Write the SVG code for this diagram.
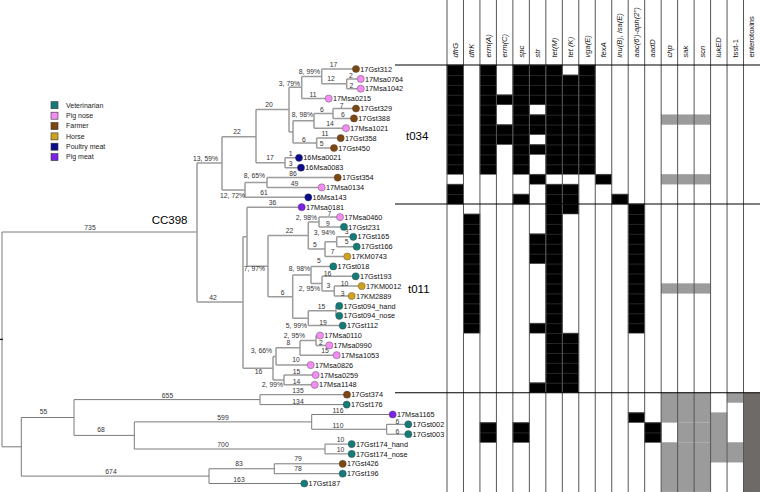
<svg xmlns="http://www.w3.org/2000/svg" width="760" height="492" viewBox="0 0 760 492">
<defs>
<pattern id="blk" patternUnits="userSpaceOnUse" x="0" y="65" width="760" height="9.93">
<rect width="760" height="9.93" fill="#000"/>
<rect width="760" height="0.6" fill="#3c3c3c"/>
</pattern>
</defs>
<style>
text{font-family:"Liberation Sans",Arial,sans-serif}
.b1{stroke:#9c9c9c;stroke-width:1.5;fill:none}
.b2{stroke:#7a7a7a;stroke-width:1;fill:none}
.bl{font-size:6.8px;fill:#333}
.e{text-anchor:end}
.m{text-anchor:middle}
.nm{font-size:7.3px;fill:#111}
.hd{font-size:7.6px;fill:#111;font-style:italic}
.up{font-style:normal}
.lg{font-size:7px;fill:#222}
.big{font-size:11.5px;fill:#000}
.v{fill:#137b78}.p{fill:#f28ef2}.f{fill:#7d4712}.h{fill:#cfa220}.y{fill:#0b0b8c}.q{fill:#7b22e4}
circle{stroke:#444;stroke-width:0.4}
.k{fill:url(#blk);stroke:#3c3c3c;stroke-width:0.6}
.g{fill:#9b9b9b;stroke:#b0b0b0;stroke-width:0.5}
.dg{fill:#6e6a67}
.cl{stroke:#555;stroke-width:1}
.sep{stroke:#000;stroke-width:1.1}
</style>
<rect width="760" height="492" fill="#fff"/>
<g id="matrix">
<rect class="k" x="447" y="65" width="16.47" height="109.23"/>
<rect class="k" x="447" y="184.16" width="16.47" height="19.86"/>
<rect class="k" x="463.47" y="213.95" width="16.47" height="119.16"/>
<rect class="k" x="479.95" y="65" width="16.47" height="109.23"/>
<rect class="k" x="479.95" y="422.48" width="16.47" height="19.86"/>
<rect class="k" x="496.42" y="94.79" width="16.47" height="9.93"/>
<rect class="k" x="496.42" y="124.58" width="16.47" height="19.86"/>
<rect class="k" x="512.89" y="65" width="16.47" height="109.23"/>
<rect class="k" x="512.89" y="194.09" width="16.47" height="9.93"/>
<rect class="k" x="512.89" y="422.48" width="16.47" height="19.86"/>
<rect class="k" x="529.37" y="65" width="16.47" height="39.72"/>
<rect class="k" x="529.37" y="114.65" width="16.47" height="19.86"/>
<rect class="k" x="529.37" y="144.44" width="16.47" height="9.93"/>
<rect class="k" x="529.37" y="174.23" width="16.47" height="9.93"/>
<rect class="k" x="529.37" y="233.81" width="16.47" height="29.79"/>
<rect class="k" x="529.37" y="323.18" width="16.47" height="9.93"/>
<rect class="k" x="529.37" y="382.76" width="16.47" height="9.93"/>
<rect class="k" x="545.84" y="65" width="16.47" height="109.23"/>
<rect class="k" x="545.84" y="184.16" width="16.47" height="208.53"/>
<rect class="k" x="562.32" y="74.93" width="16.47" height="99.3"/>
<rect class="k" x="562.32" y="184.16" width="16.47" height="29.79"/>
<rect class="k" x="562.32" y="333.11" width="16.47" height="59.58"/>
<rect class="k" x="578.79" y="65" width="16.47" height="109.23"/>
<rect class="k" x="595.26" y="174.23" width="16.47" height="9.93"/>
<rect class="k" x="611.74" y="194.09" width="16.47" height="9.93"/>
<rect class="k" x="628.21" y="204.02" width="16.47" height="129.09"/>
<rect class="k" x="628.21" y="412.55" width="16.47" height="9.93"/>
<rect class="k" x="644.68" y="422.48" width="16.47" height="19.86"/>
<rect class="g" x="661.16" y="114.65" width="49.42" height="9.93"/>
<rect class="g" x="661.16" y="174.23" width="49.42" height="9.93"/>
<rect class="g" x="661.16" y="283.46" width="49.42" height="9.93"/>
<rect class="g" x="661.16" y="392.69" width="49.42" height="29.79"/>
<rect class="g" x="677.63" y="422.48" width="32.95" height="19.86"/>
<rect class="g" x="661.16" y="442.34" width="49.42" height="49.65"/>
<rect class="g" x="710.58" y="412.55" width="16.47" height="49.65"/>
<rect class="g" x="727.05" y="392.69" width="16.47" height="9.93"/>
<rect class="g" x="727.05" y="442.34" width="16.47" height="19.86"/>
<rect class="dg" x="743.53" y="392.69" width="16.47" height="99.3"/>
<path class="cl" d="M447 0V492M463.47 0V492M479.95 0V492M496.42 0V492M512.89 0V492M529.37 0V492M545.84 0V492M562.32 0V492M578.79 0V492M595.26 0V492M611.74 0V492M628.21 0V492M644.68 0V492M661.16 0V492M677.63 0V492M694.11 0V492M710.58 0V492M727.05 0V492M743.53 0V492"/>
<path class="sep" d="M395 65H760M395 204.02H760M395 392.69H760"/>
</g>
<g id="header">
<text class="hd" transform="translate(457.7,57.5) rotate(-90)">dfrG</text>
<text class="hd" transform="translate(474.2,57.5) rotate(-90)">dfrK</text>
<text class="hd" transform="translate(490.7,57.5) rotate(-90)">erm(A)</text>
<text class="hd" transform="translate(507.2,57.5) rotate(-90)">erm(C)</text>
<text class="hd" transform="translate(523.6,57.5) rotate(-90)">spc</text>
<text class="hd" transform="translate(540.1,57.5) rotate(-90)">str</text>
<text class="hd" transform="translate(556.6,57.5) rotate(-90)">tet(M)</text>
<text class="hd" transform="translate(573,57.5) rotate(-90)">tet (K)</text>
<text class="hd" transform="translate(589.5,57.5) rotate(-90)">vga(E)</text>
<text class="hd" transform="translate(606,57.5) rotate(-90)">fexA</text>
<text class="hd" transform="translate(622.4,57.5) rotate(-90)">lnu(B), lsa(E)</text>
<text class="hd" transform="translate(638.9,57.5) rotate(-90)">aac(6')-aph(2'')</text>
<text class="hd" transform="translate(655.4,57.5) rotate(-90)">aadD</text>
<text class="hd" transform="translate(671.8,57.5) rotate(-90)">chp</text>
<text class="hd" transform="translate(688.3,57.5) rotate(-90)">sak</text>
<text class="hd" transform="translate(704.8,57.5) rotate(-90)">scn</text>
<text class="hd" transform="translate(721.2,57.5) rotate(-90)">lukED</text>
<text class="hd up" transform="translate(737.7,57.5) rotate(-90)">tsst-1</text>
<text class="hd up" transform="translate(754.2,57.5) rotate(-90)">enterotoxins</text>
</g>
<g id="legend">
<rect class="v" x="51" y="101.7" width="7" height="7" stroke="#333" stroke-width="0.6"/><text class="lg" x="66" y="107.6">Veterinarian</text>
<rect class="p" x="51" y="112.2" width="7" height="7" stroke="#333" stroke-width="0.6"/><text class="lg" x="66" y="118">Pig nose</text>
<rect class="f" x="51" y="122.6" width="7" height="7" stroke="#333" stroke-width="0.6"/><text class="lg" x="66" y="128.4">Farmer</text>
<rect class="h" x="51" y="132.9" width="7" height="7" stroke="#333" stroke-width="0.6"/><text class="lg" x="66" y="138.7">Horse</text>
<rect class="y" x="51" y="143.2" width="7" height="7" stroke="#333" stroke-width="0.6"/><text class="lg" x="66" y="149">Poultry meat</text>
<rect class="q" x="51" y="153.6" width="7" height="7" stroke="#333" stroke-width="0.6"/><text class="lg" x="66" y="159.4">Pig meat</text>
</g>
<g id="connectors">
<path class="b2" d="M2 232V446.8M2 232H197M2 446.8H21.3M21.3 417.5V476.1M21.3 417.5H74M74 399.6V435.4M74 399.6H260M260 394.7V404.6M260 394.7H347M260 404.6H346.7M74 435.4H134.3M134.3 421.9V449M134.3 421.9H311.7M311.7 414.5V429.25M311.7 414.5H392.7M311.7 429.25H386.7M386.7 424.3V434.2M386.7 424.3H408.3M386.7 434.2H408.3M134.3 449H325M325 444.1V453.9M325 444.1H351.7M325 453.9H351.7M21.3 476.1H209M209 468.75V483.5M209 468.75H274.3M209 483.5H304.3M274.3 463.8V473.7M274.3 463.8H342.7M274.3 473.7H342.7"/>
<path d="M0 339.4H3" stroke="#222" stroke-width="1.4"/>
<path class="b1" d="M197 163V302M197 163H222M197 302H243M222 136.7V190M222 136.7H256M222 190H245M256 109.6V162.75M256 109.6H289M256 162.75H285M289 87.3V131.9M289 87.3H301.7M289 131.9H293M301.7 76.4V98.6M301.7 76.4H321.7M301.7 98.6H328.7M321.7 69V83.8M321.7 69H356M321.7 83.8H346.7M346.7 78.9V88.7M346.7 78.9H360.7M346.7 88.7H360.7M293 120.8V143.05M293 120.8H314M293 143.05H316.7M314 113.45V128.2M314 113.45H333M314 128.2H346M333 108.5V118.4M333 108.5H356M333 118.4H354M316.7 138.1V148M316.7 138.1H340.7M316.7 148H334M285 157.8V167.7M285 157.8H299M285 167.7H301M245 182.5V197.3M245 182.5H267M245 197.3H308.3M267 177.6V187.4M267 177.6H337.7M267 187.4H321.7M243 236.7V368.2M243 236.7H247M243 368.2H273M247 207.2V266.2M247 207.2H301.7M247 266.2H268M268 235.6V296.8M268 235.6H308.3M268 296.8H292.7M308.3 222V249.1M308.3 222H319M308.3 249.1H325M319 217.1V226.9M319 217.1H340M319 226.9H344M325 241.75V256.5M325 241.75H336.7M325 256.5H347.3M336.7 236.8V246.7M336.7 236.8H353.3M336.7 246.7H356.7M292.7 275V318.2M292.7 275H311M292.7 318.2H308.3M311 266.4V283.6M311 266.4H333.3M311 283.6H322M322 276.3V291M322 276.3H355.7M322 291H334.3M334.3 286.1V296M334.3 286.1H361.7M334.3 296H351.7M308.3 310.85V325.6M308.3 310.85H336M308.3 325.6H342.7M336 305.9V315.8M336 305.9H339.3M336 315.8H339.3M273 356.5V379.9M273 356.5H276M273 379.9H284M276 347.8V365.1M276 347.8H300M276 365.1H310.7M300 340.45V355.2M300 340.45H316M300 355.2H336.7M316 335.5V345.4M316 335.5H320M316 345.4H329.3M284 375V384.8M284 375H315.7M284 384.8H314.7"/>
<g class="bl">
<text class="m" x="90" y="229.5">735</text>
<text class="e" x="218" y="161">13, 59%</text>
<text class="m" x="213" y="299.5">42</text>
<text class="m" x="237" y="134.4">22</text>
<text class="e" x="245" y="198.4">12, 72%</text>
<text class="m" x="269" y="107.4">20</text>
<text class="m" x="270" y="160.4">17</text>
<text class="e" x="300" y="86">3, 79%</text>
<text class="e" x="320" y="74">8, 99%</text>
<text class="m" x="313" y="97">11</text>
<text class="m" x="333.5" y="67">17</text>
<text class="m" x="331" y="81.4">12</text>
<text class="m" x="351" y="77.8">2</text>
<text class="m" x="351.5" y="87.6">2</text>
<text class="e" x="313" y="117.4">8, 98%</text>
<text class="m" x="304" y="141.5">6</text>
<text class="m" x="322" y="112.2">6</text>
<text class="m" x="330" y="126.4">14</text>
<text class="m" x="341.7" y="107.8">7</text>
<text class="m" x="343" y="117.2">6</text>
<text class="m" x="325" y="135.7">11</text>
<text class="m" x="321.7" y="145.7">5</text>
<text class="m" x="290.7" y="156.1">1</text>
<text class="m" x="290.7" y="166.4">3</text>
<text class="e" x="265" y="178.1">8, 65%</text>
<text class="m" x="264" y="195.4">61</text>
<text class="m" x="293" y="176.4">86</text>
<text class="m" x="294.5" y="186.4">49</text>
<text class="m" x="272.5" y="205.1">36</text>
<text class="e" x="265" y="271.4">7, 97%</text>
<text class="m" x="289.5" y="233.1">22</text>
<text class="m" x="282.7" y="295.1">6</text>
<text class="e" x="317" y="219.7">2, 98%</text>
<text class="m" x="315" y="246.7">5</text>
<text class="m" x="329.5" y="216.4">7</text>
<text class="m" x="328" y="225.7">9</text>
<text class="e" x="335" y="235.1">3, 94%</text>
<text class="m" x="332.7" y="254.1">7</text>
<text class="m" x="346.7" y="234.1">3</text>
<text class="m" x="346.7" y="244.1">5</text>
<text class="e" x="310" y="271.4">8, 98%</text>
<text class="m" x="319" y="263.1">5</text>
<text class="m" x="327.5" y="275.7">16</text>
<text class="e" x="320" y="290.7">2, 95%</text>
<text class="m" x="328.3" y="288.4">3</text>
<text class="m" x="344.5" y="285.7">10</text>
<text class="m" x="342.7" y="295.7">3</text>
<text class="m" x="321.5" y="309.1">15</text>
<text class="m" x="323" y="324.7">19</text>
<text class="e" x="307" y="328.1">5, 99%</text>
<text class="m" x="258.5" y="374.4">16</text>
<text class="e" x="272" y="353.4">3, 66%</text>
<text class="m" x="288.3" y="345.1">8</text>
<text class="e" x="305" y="338.4">2, 95%</text>
<text class="m" x="321" y="344.7">2</text>
<text class="m" x="325" y="353.4">15</text>
<text class="m" x="296" y="362.4">10</text>
<text class="m" x="296.5" y="374.1">15</text>
<text class="m" x="296.5" y="384.1">14</text>
<text class="e" x="283" y="387.4">2, 99%</text>
<text class="m" x="167.5" y="398.1">655</text>
<text class="m" x="298" y="393.1">135</text>
<text class="m" x="298" y="403.6">134</text>
<text class="m" x="43.5" y="414.1">55</text>
<text class="m" x="101" y="432.4">68</text>
<text class="m" x="223" y="419.7">599</text>
<text class="m" x="338" y="413.1">116</text>
<text class="m" x="338" y="428.1">110</text>
<text class="m" x="397.3" y="424.1">6</text>
<text class="m" x="397.3" y="434.1">6</text>
<text class="m" x="223" y="447.4">700</text>
<text class="m" x="340.5" y="442.4">10</text>
<text class="m" x="340.5" y="452.4">10</text>
<text class="m" x="111" y="474.1">674</text>
<text class="m" x="239" y="466.4">83</text>
<text class="m" x="239" y="482.4">163</text>
<text class="m" x="298" y="461.4">79</text>
<text class="m" x="298" y="471.4">78</text>
</g>
</g>
<text class="big" x="151.7" y="224.3">CC398</text>
<text class="big" x="406" y="140">t034</text>
<text class="big" x="408" y="293.3">t011</text>
<g id="n-17Gst312"><circle class="f" cx="356" cy="69" r="3.6"/><text class="nm" x="360.3" y="71.6">17Gst312</text></g>
<g id="n-17Msa0764"><circle class="p" cx="360.7" cy="78.9" r="3.6"/><text class="nm" x="365" y="81.5">17Msa0764</text></g>
<g id="n-17Msa1042"><circle class="p" cx="360.7" cy="88.7" r="3.6"/><text class="nm" x="365" y="91.3">17Msa1042</text></g>
<g id="n-17Msa0215"><circle class="p" cx="328.7" cy="98.6" r="3.6"/><text class="nm" x="333" y="101.2">17Msa0215</text></g>
<g id="n-17Gst329"><circle class="f" cx="356" cy="108.5" r="3.6"/><text class="nm" x="360.3" y="111.1">17Gst329</text></g>
<g id="n-17Gst388"><circle class="f" cx="354" cy="118.4" r="3.6"/><text class="nm" x="358.3" y="121">17Gst388</text></g>
<g id="n-17Msa1021"><circle class="p" cx="346" cy="128.2" r="3.6"/><text class="nm" x="350.3" y="130.8">17Msa1021</text></g>
<g id="n-17Gst358"><circle class="f" cx="340.7" cy="138.1" r="3.6"/><text class="nm" x="345" y="140.7">17Gst358</text></g>
<g id="n-17Gst450"><circle class="f" cx="334" cy="148" r="3.6"/><text class="nm" x="338.3" y="150.6">17Gst450</text></g>
<g id="n-16Msa0021"><circle class="y" cx="299" cy="157.8" r="3.6"/><text class="nm" x="303.3" y="160.4">16Msa0021</text></g>
<g id="n-16Msa0083"><circle class="y" cx="301" cy="167.7" r="3.6"/><text class="nm" x="305.3" y="170.3">16Msa0083</text></g>
<g id="n-17Gst354"><circle class="f" cx="337.7" cy="177.6" r="3.6"/><text class="nm" x="342" y="180.2">17Gst354</text></g>
<g id="n-17Msa0134"><circle class="p" cx="321.7" cy="187.4" r="3.6"/><text class="nm" x="326" y="190">17Msa0134</text></g>
<g id="n-16Msa143"><circle class="y" cx="308.3" cy="197.3" r="3.6"/><text class="nm" x="312.6" y="199.9">16Msa143</text></g>
<g id="n-17Msa0181"><circle class="q" cx="301.7" cy="207.2" r="3.6"/><text class="nm" x="306" y="209.8">17Msa0181</text></g>
<g id="n-17Msa0460"><circle class="p" cx="340" cy="217.1" r="3.6"/><text class="nm" x="344.3" y="219.7">17Msa0460</text></g>
<g id="n-17Gst231"><circle class="v" cx="344" cy="226.9" r="3.6"/><text class="nm" x="348.3" y="229.5">17Gst231</text></g>
<g id="n-17Gst165"><circle class="v" cx="353.3" cy="236.8" r="3.6"/><text class="nm" x="357.6" y="239.4">17Gst165</text></g>
<g id="n-17Gst166"><circle class="v" cx="356.7" cy="246.7" r="3.6"/><text class="nm" x="361" y="249.3">17Gst166</text></g>
<g id="n-17KM0743"><circle class="h" cx="347.3" cy="256.5" r="3.6"/><text class="nm" x="351.6" y="259.1">17KM0743</text></g>
<g id="n-17Gst018"><circle class="v" cx="333.3" cy="266.4" r="3.6"/><text class="nm" x="337.6" y="269">17Gst018</text></g>
<g id="n-17Gst193"><circle class="v" cx="355.7" cy="276.3" r="3.6"/><text class="nm" x="360" y="278.9">17Gst193</text></g>
<g id="n-17KM0012"><circle class="h" cx="361.7" cy="286.1" r="3.6"/><text class="nm" x="366" y="288.7">17KM0012</text></g>
<g id="n-17KM2889"><circle class="h" cx="351.7" cy="296" r="3.6"/><text class="nm" x="356" y="298.6">17KM2889</text></g>
<g id="n-17Gst094_hand"><circle class="v" cx="339.3" cy="305.9" r="3.6"/><text class="nm" x="343.6" y="308.5">17Gst094_hand</text></g>
<g id="n-17Gst094_nose"><circle class="v" cx="339.3" cy="315.8" r="3.6"/><text class="nm" x="343.6" y="318.4">17Gst094_nose</text></g>
<g id="n-17Gst112"><circle class="v" cx="342.7" cy="325.6" r="3.6"/><text class="nm" x="347" y="328.2">17Gst112</text></g>
<g id="n-17Msa0110"><circle class="p" cx="320" cy="335.5" r="3.6"/><text class="nm" x="324.3" y="338.1">17Msa0110</text></g>
<g id="n-17Msa0990"><circle class="p" cx="329.3" cy="345.4" r="3.6"/><text class="nm" x="333.6" y="348">17Msa0990</text></g>
<g id="n-17Msa1053"><circle class="p" cx="336.7" cy="355.2" r="3.6"/><text class="nm" x="341" y="357.8">17Msa1053</text></g>
<g id="n-17Msa0826"><circle class="p" cx="310.7" cy="365.1" r="3.6"/><text class="nm" x="315" y="367.7">17Msa0826</text></g>
<g id="n-17Msa0259"><circle class="p" cx="315.7" cy="375" r="3.6"/><text class="nm" x="320" y="377.6">17Msa0259</text></g>
<g id="n-17Msa1148"><circle class="p" cx="314.7" cy="384.8" r="3.6"/><text class="nm" x="319" y="387.4">17Msa1148</text></g>
<g id="n-17Gst374"><circle class="f" cx="347" cy="394.7" r="3.6"/><text class="nm" x="351.3" y="397.3">17Gst374</text></g>
<g id="n-17Gst176"><circle class="v" cx="346.7" cy="404.6" r="3.6"/><text class="nm" x="351" y="407.2">17Gst176</text></g>
<g id="n-17Msa1165"><circle class="q" cx="392.7" cy="414.5" r="3.6"/><text class="nm" x="397" y="417.1">17Msa1165</text></g>
<g id="n-17Gst002"><circle class="v" cx="408.3" cy="424.3" r="3.6"/><text class="nm" x="412.6" y="426.9">17Gst002</text></g>
<g id="n-17Gst003"><circle class="v" cx="408.3" cy="434.2" r="3.6"/><text class="nm" x="412.6" y="436.8">17Gst003</text></g>
<g id="n-17Gst174_hand"><circle class="v" cx="351.7" cy="444.1" r="3.6"/><text class="nm" x="356" y="446.7">17Gst174_hand</text></g>
<g id="n-17Gst174_nose"><circle class="v" cx="351.7" cy="453.9" r="3.6"/><text class="nm" x="356" y="456.5">17Gst174_nose</text></g>
<g id="n-17Gst426"><circle class="f" cx="342.7" cy="463.8" r="3.6"/><text class="nm" x="347" y="466.4">17Gst426</text></g>
<g id="n-17Gst196"><circle class="v" cx="342.7" cy="473.7" r="3.6"/><text class="nm" x="347" y="476.3">17Gst196</text></g>
<g id="n-17Gst187"><circle class="v" cx="304.3" cy="483.5" r="3.6"/><text class="nm" x="308.6" y="486.1">17Gst187</text></g>
</svg>
